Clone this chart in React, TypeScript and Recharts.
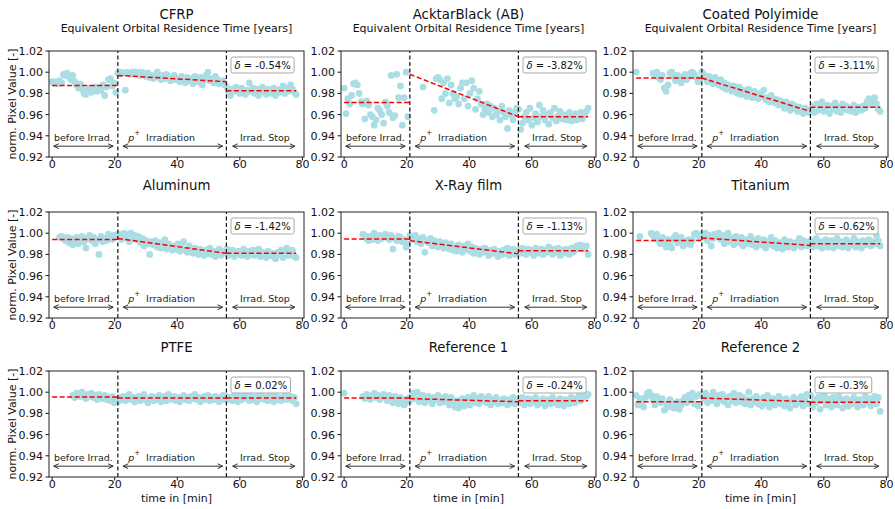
import React from 'react';
import { ScatterChart, Scatter, XAxis, YAxis, ReferenceLine, ReferenceDot } from 'recharts';

const FONT = '"DejaVu Sans", "Liberation Sans", sans-serif';
const N = null;

// time of each sample [min]
const TIMES = [
  0, 0.6, 1.2, 1.8, 2.4, 3, 3.6, 4.2, 4.8, 5.4,
  6, 6.6, 7.2, 7.8, 8.4, 9, 9.6, 10.2, 10.8, 11.4,
  12, 12.6, 13.2, 13.8, 14.4, 15, 15.6, 16.2, 16.8, 17.4,
  18, 18.6, 19.2, 19.8, 20.4, 21, 21.6, 22.2, 22.8, 23.4,
  24, 24.6, 25.2, 25.8, 26.4, 27, 27.6, 28.2, 28.8, 29.4,
  30, 30.6, 31.2, 31.8, 32.4, 33, 33.6, 34.2, 34.8, 35.4,
  36, 36.6, 37.2, 37.8, 38.4, 39, 39.6, 40.2, 40.8, 41.4,
  42, 42.6, 43.2, 43.8, 44.4, 45, 45.6, 46.2, 46.8, 47.4,
  48, 48.6, 49.2, 49.8, 50.4, 51, 51.6, 52.2, 52.8, 53.4,
  54, 54.6, 55.2, 55.8, 56.4, 57, 57.6, 58.2, 58.8, 59.4,
  60, 60.6, 61.2, 61.8, 62.4, 63, 63.6, 64.2, 64.8, 65.4,
  66, 66.6, 67.2, 67.8, 68.4, 69, 69.6, 70.2, 70.8, 71.4,
  72, 72.6, 73.2, 73.8, 74.4, 75, 75.6, 76.2, 76.8, 77.4,
  78,
];

// normalised pixel values, in thousandths (1000 = 1.000)
const CFRP = [
  991, 990, 991, 989, 992, 990, 998, 997, 999, 996, 993, 997, 991, 988, 985, 989, 984, 980,
  979, 983, 985, 981, 984, 986, 982, 985, 983, 988, 978, 986, 993, 994, 987, 990, 981,
  999, 998, 1000, 999, 983, 1000, 999, 998, 1000, 1000, 1000, 999, 997, 1000, 998, 996, 999, 995, 997, 994,
  996, 1000, 995, 993, 997, 994, 998, 996, 992, 995, 997, 993, 994, 991, 996, 993, 990, 995, 992, 994,
  989, 996, 993, 991, 995, 988, 993, 997, 1000, 992, 994, 990, 996, 993, 989, 991, 992, 988,
  986, 981, 978, 984, 982, 986, 983, 980, 985, 981, 979, 983, 990, 982, 985, 980, 984, 978, 983, 986,
  981, 979, 984, 982, 980, 985, 978, 983, 981, 984, 987, 980, 985, 982, 988, 984, 981, 979,
];
const ACKTAR = [
  985, 961, 975, 970, 978, 989, 990, 988, 980, 972, 970, 956, 973, 969, 960, 958, 950, 955,
  966, 964, 960, 952, 972, 968, 962, 997, 957, 959, 998, 976, 987, 950, 976, 1000, 958,
  N, N, N, N, N, N, N, 986, N, N, N, N, N, 964, 994, 995, 993, 975, 990, 980,
  994, 971, 988, 980, 975, 977, 970, 985, 990, 975, 990, 968, 980, 992, 985, 965, 975, 982, 970, 960,
  965, 970, 962, 968, 958, 966, 960, 963, 955, 968, 962, 958, 947, 964, 960, 955, 962, 966,
  965, 946, 952, 958, 962, 955, 966, 950, 957, 961, 953, 969, 958, 964, 955, 960, 951, 962, 957, 966,
  954, 959, 963, 956, 960, 955, 958, 962, 954, 957, 961, 955, 959, 962, 956, 960, 963, 966,
];
const POLYIMIDE = [
  1000, N, N, N, N, N, N, N, N,
  999, 998, 1000, 995, 993, 997, 985, 982, 988, 999, 1000, 996, 992, 997, 994, 990, 996, 998,
  993, 997, 999, 1000, 998, 995, 991, 993,
  1000, 998, 995, 991, 996, 993, 989, 995, 992, 988, 993, 986, 990, 984, 988, 985, 982, 987, 983, 980,
  986, 979, 983, 981, 977, 984, 980, 976, 982, 978, 975, 980, 977, 983, 974, 976, 972, 978, 975, 971,
  974, 969, 973, 970, 966, 972, 968, 964, 970, 966, 968, 963, 967, 965, 961, 966, 964, 962,
  965, 968, 962, 970, 964, 967, 972, 963, 966, 969, 961, 968, 965, 971, 963, 967, 962, 970, 965, 968,
  964, 966, 963, 969, 962, 965, 967, 964, 968, 966, 972, 975, 969, 974, 976, 970, 965, 963,
];
const ALUMINUM = [
  N, N, N, N,
  996, 997, 995, 993, 996, 991, 995, 989, 994, 996, 990, 993, 997, 992, 986, 995, 998, 993,
  996, 990, 994, 980, 997, 992, 995, 993, 999, 996, 994, 998, 997,
  999, 997, 994, 1000, 996, 999, 992, 1000, 995, 998, 994, 997, 991, 995, 988, 993, 990, 980, 992, 989,
  993, 987, 991, 986, 989, 994, 985, 990, 987, 984, 988, 985, 990, 983, 987, 992, 984, 982, 988, 985,
  981, 986, 983, 980, 985, 982, 979, 984, 981, 986, 980, 983, 978, 982, 985, 979, 981, 983,
  985, 979, 982, 984, 978, 981, 983, 980, 979, 985, 982, 978, 983, 980, 984, 979, 981, 985, 978, 982,
  980, 977, 983, 979, 981, 978, 976, 982, 980, 984, 977, 983, 986, 979, 981, 984, 978, 977,
];
const XRAY = [
  N, N, N, N, N, N, N, N, N, N,
  999, 998, 995, 993, 997, 994, 1000, 996, 993, 998, 995, 997, 999, 996, 994, 998, 985, 995,
  993, 997, 996, 992, 994, 987, 990,
  998, 997, 994, 998, 992, 995, 990, 996, 982, 993, 991, 995, 988, 993, 990, 987, 992, 989, 986, 991,
  988, 985, 990, 984, 987, 983, 989, 986, 982, 988, 985, 990, 983, 987, 981, 986, 984, 980, 985, 982,
  986, 983, 979, 984, 981, 985, 982, 978, 983, 980, 984, 981, 986, 979, 983, 985, 980, 982,
  984, 981, 986, 983, 980, 985, 982, 984, 979, 986, 983, 981, 985, 980, 984, 982, 987, 983, 980, 985,
  982, 986, 979, 984, 981, 985, 983, 980, 986, 982, 984, 988, 986, 989, 987, 985, 988, 980,
];
const TITANIUM = [
  N, N, 997, N, N, N, N, N,
  1000, 998, 995, 999, 993, 990, 996, 992, 987, 994, 990, 986, 995, 998, 991, 993, 996, 988,
  992, 990, 994, 989, 993, 999, 1000, 998, 996,
  999, 996, 1000, 993, 998, 988, 995, 999, 997, 1000, 994, 998, 990, 996, 1000, 992, 995, 989, 997, 993,
  991, 996, 988, 994, 992, 990, 997, 989, 993, 987, 995, 991, 989, 994, 986, 992, 990, 996, 988, 993,
  986, 991, 989, 985, 994, 990, 987, 992, 988, 986, 991, 989, 995, 987, 993, 990, 988, 992,
  993, 987, 991, 995, 988, 992, 986, 990, 994, 987, 989, 993, 986, 991, 995, 988, 992, 987, 990, 994,
  986, 991, 989, 995, 987, 992, 990, 986, 993, 989, 991, 994, 988, 992, 990, 998, 993, 988,
];
const PTFE = [
  N, N, N, N, N, N, N, N, N, N, N,
  997, 995, 999, 998, 996, 1000, 997, 994, 998, 996, 999, 995, 997, 993, 998, 996, 994, 997,
  993, 995, 992, 996, 990, 993,
  991, 995, 993, 996, 992, 994, 998, 993, 995, 991, 994, 996, 992, 995, 998, 993, 990, 994, 996, 992,
  995, 993, 997, 991, 994, 996, 992, 998, 994, 993, 996, 992, 995, 991, 994, 997, 993, 995, 992, 996,
  994, 998, 993, 995, 991, 994, 996, 993, 997, 992, 995, 993, 996, 994, 991, 995, 997, 993,
  996, 993, 995, 992, 997, 994, 991, 996, 993, 995, 998, 994, 992, 996, 993, 995, 991, 997, 994, 996,
  993, 995, 992, 997, 994, 991, 996, 993, 995, 992, 994, 997, 993, 995, 996, 992, 995, 989,
];
const REFERENCE1 = [
  999, N, N, N, N, N, N, N, N, N,
  996, 994, 998, 995, 993, 997, 999, 995, 997, 993, 996, 998, 995, 992, 997, 994, 990, 996,
  993, 989, 995, 992, 988, 991, 994,
  992, 996, 999, 994, 1000, 991, 995, 997, 990, 994, 996, 992, 989, 995, 993, 997, 990, 994, 991, 996,
  993, 988, 995, 990, 986, 992, 985, 989, 994, 987, 991, 995, 988, 993, 997, 990, 994, 989, 996, 992,
  994, 990, 996, 988, 993, 991, 995, 989, 992, 990, 994, 991, 988, 993, 990, 995, 989, 992,
  993, 990, 995, 988, 992, 994, 989, 993, 991, 995, 988, 992, 990, 994, 987, 991, 993, 989, 995, 990,
  992, 988, 994, 990, 987, 993, 991, 989, 995, 992, 990, 994, 996, 992, 995, 997, 996, 998,
];
const REFERENCE2 = [
  997, 988, 994, 991, 986, 995, 999, 1000, 997, 993, 988, 996, 992, 990, 994, 983, 989, 986,
  993, 990, 985, 987, 991, 984, 988, 992, 995, 990, 997, 993, 999, 989, 996, 987, 998,
  997, 994, 999, 990, 996, 992, 1000, 995, 989, 997, 993, 998, 991, 995, 988, 996, 992, 999, 990, 994,
  997, 991, 995, 989, 993, 1000, 988, 994, 991, 996, 989, 993, 987, 995, 990, 997, 986, 992, 994, 988,
  991, 996, 989, 993, 987, 994, 990, 985, 992, 995, 988, 993, 990, 996, 987, 992, 998, 989,
  997, 986, 993, 990, 995, 984, 992, 998, 988, 994, 990, 986, 995, 991, 988, 996, 993, 985, 990, 994,
  987, 992, 989, 995, 991, 986, 993, 990, 988, 996, 991, 994, 987, 993, 996, 989, 995, 982,
];

// fitted levels (thousandths): [before, irradiation start, irradiation end, after]
const CFRP_FIT = [987.5, 997, 991, 982.5];
const ACKTAR_FIT = [971.5, 998, 958, 958];
const POLYIMIDE_FIT = [994.5, 994.5, 963, 967];
const ALUMINUM_FIT = [994, 995, 981, 981];
const XRAY_FIT = [994.5, 993, 980.5, 983.5];
const TITANIUM_FIT = [993, 995.5, 988.5, 990];
const PTFE_FIT = [995.5, 994.5, 994.5, 994.5];
const REFERENCE1_FIT = [994.5, 994, 991, 992];
const REFERENCE2_FIT = [991, 994.5, 991, 990.5];

const TITLES = ['CFRP', 'AcktarBlack (AB)', 'Coated Polyimide', 'Aluminum', 'X-Ray film', 'Titanium', 'PTFE', 'Reference 1', 'Reference 2'];
const VALUES = [CFRP, ACKTAR, POLYIMIDE, ALUMINUM, XRAY, TITANIUM, PTFE, REFERENCE1, REFERENCE2];
const FITS = [CFRP_FIT, ACKTAR_FIT, POLYIMIDE_FIT, ALUMINUM_FIT, XRAY_FIT, TITANIUM_FIT, PTFE_FIT, REFERENCE1_FIT, REFERENCE2_FIT];
const DELTAS = ['-0.54%', '-3.82%', '-3.11%', '-1.42%', '-1.13%', '-0.62%', '0.02%', '-0.24%', '-0.3%'];

// phase boundaries [min]
const PHASE_X = [0, 21, 55.7, 78];
const ARROW_SPANS = [[0.5, 19.5], [22.7, 54.5], [57.7, 77.6]];
const PHASE_LABEL_X = [10, 35, 68];
const ARROW_Y = 0.9302;
const LABEL_Y = 0.9385;

const X_DOMAIN = [-1, 80.5];
const Y_DOMAIN = [0.92, 1.02];
const X_TICKS = [0, 20, 40, 60, 80];
const YEARS_PER_MIN = 2.81;
const YEAR_TICKS = [0, 50, 100, 150, 200];
const Y_TICKS = [0.92, 0.94, 0.96, 0.98, 1.0, 1.02];

// layout
const COL_LEFT = [49, 341, 633];
const ROW_TOP = [51, 212, 371];
const PW = 255;
const PH = 106;
const LP = 45;
const TP = 25;
const BP = 25;
const RP = 5;
const TITLE_Y = [14, 185, 347];
const DOT = '#abdde4';
const INK = '#111';

const tickStyle = { fontSize: 11, fill: INK, fontFamily: FONT };

const CHAR_W: Record<string, number> = {
  '0': 0.636, '1': 0.636, '2': 0.636, '3': 0.636, '4': 0.636, '5': 0.636, '6': 0.636, '7': 0.636,
  '8': 0.636, '9': 0.636, '.': 0.318, '-': 0.361, '%': 0.95, ' ': 0.318, '=': 0.838,
};
const textWidth = (s: string, size: number) => s.split('').reduce((a, c) => a + (CHAR_W[c] ?? 0.6), 0) * size;

const Dot = (p: any) => <circle cx={p.cx} cy={p.cy} r={3.4} fill={DOT} />;
const NoDot = () => <g />;

const Arrow = (p: any) => {
  const { x1, x2, y1 } = p;
  const a = Math.min(x1, x2);
  const b = Math.max(x1, x2);
  const hl = 5;
  const hw = 2.4;
  return (
    <g stroke="#333" strokeWidth={1} fill="none">
      <line x1={a} y1={y1} x2={b} y2={y1} />
      <path d={`M${a + hl},${y1 - hw} L${a},${y1} L${a + hl},${y1 + hw}`} />
      <path d={`M${b - hl},${y1 - hw} L${b},${y1} L${b - hl},${y1 + hw}`} />
    </g>
  );
};

const makeLabel = (k: number) => (p: any) => {
  const common = { x: p.cx, y: p.cy, textAnchor: 'middle' as const, dominantBaseline: 'central' as const, fontSize: 9.5, fontFamily: FONT, fill: '#222' };
  if (k === 1) {
    return (
      <text {...common} style={{ whiteSpace: 'pre' }}>
        <tspan fontStyle="italic">p</tspan>
        <tspan dy={-4} fontSize={7}>+</tspan>
        <tspan dy={4}>{'  Irradiation'}</tspan>
      </text>
    );
  }
  return <text {...common}>{k === 0 ? 'before Irrad.' : 'Irrad. Stop'}</text>;
};

const RED_LINE = { stroke: '#ff0000', strokeDasharray: '5 2.5', strokeWidth: 1.5, fill: 'none' };
const BLACK_LINE = { stroke: INK, strokeDasharray: '4 2.5', strokeWidth: 1.2, fill: 'none' };

function Panel({ idx }: { idx: number }) {
  const col = idx % 3;
  const row = Math.floor(idx / 3);
  const values = VALUES[idx];
  const fit = FITS[idx].map((v) => v / 1000);
  const data = TIMES.map((t, i) => (values[i] == null ? null : { x: t, y: (values[i] as number) / 1000 })).filter(Boolean) as { x: number; y: number }[];
  const fitSegments = [
    [{ x: PHASE_X[0], y: fit[0] }, { x: PHASE_X[1], y: fit[0] }],
    [{ x: PHASE_X[1], y: fit[1] }, { x: PHASE_X[2], y: fit[2] }],
    [{ x: PHASE_X[2], y: fit[3] }, { x: PHASE_X[3], y: fit[3] }],
  ];
  const phaseLines = [PHASE_X[1], PHASE_X[2]].map((x) => [{ x, y: Y_DOMAIN[0] }, { x, y: Y_DOMAIN[1] }]);
  return (
    <div style={{ position: 'absolute', left: COL_LEFT[col] - LP, top: ROW_TOP[row] - TP }}>
      <ScatterChart width={LP + PW + RP} height={TP + PH + BP} margin={{ top: 0, right: RP, bottom: 0, left: 0 }}>
        <XAxis
          xAxisId="b"
          type="number"
          dataKey="x"
          domain={X_DOMAIN}
          ticks={X_TICKS}
          allowDataOverflow
          height={BP}
          axisLine={false}
          tickSize={3.5}
          tickMargin={0}
          tick={tickStyle}
          tickLine={{ stroke: INK }}
          interval={0}
        />
        <XAxis
          xAxisId="t"
          orientation="top"
          type="number"
          domain={[X_DOMAIN[0] * YEARS_PER_MIN, X_DOMAIN[1] * YEARS_PER_MIN]}
          ticks={YEAR_TICKS}
          allowDataOverflow
          height={TP}
          axisLine={false}
          tickSize={3.5}
          tickMargin={4.5}
          tick={tickStyle}
          tickLine={{ stroke: INK }}
          interval={0}
        />
        <YAxis
          yAxisId="l"
          type="number"
          dataKey="y"
          domain={Y_DOMAIN}
          ticks={Y_TICKS}
          allowDataOverflow
          width={LP}
          axisLine={false}
          tickSize={3.5}
          tickMargin={2.5}
          tick={tickStyle}
          tickLine={{ stroke: INK }}
          tickFormatter={(v: number) => v.toFixed(2)}
          interval={0}
        />
        <Scatter xAxisId="b" yAxisId="l" data={data} shape={Dot} isAnimationActive={false} />
        {phaseLines.map((seg, k) => (
          <Scatter key={'v' + k} xAxisId="b" yAxisId="l" data={seg} line={BLACK_LINE} shape={NoDot} isAnimationActive={false} />
        ))}
        {fitSegments.map((seg, k) => (
          <Scatter key={'f' + k} xAxisId="b" yAxisId="l" data={seg} line={RED_LINE} shape={NoDot} isAnimationActive={false} />
        ))}
        {ARROW_SPANS.map((s, k) => (
          <ReferenceLine key={'a' + k} xAxisId="b" yAxisId="l" segment={[{ x: s[0], y: ARROW_Y }, { x: s[1], y: ARROW_Y }]} shape={Arrow} />
        ))}
        {PHASE_LABEL_X.map((x, k) => (
          <ReferenceDot key={'l' + k} xAxisId="b" yAxisId="l" x={x} y={LABEL_Y} r={0} shape={makeLabel(k)} />
        ))}
      </ScatterChart>
    </div>
  );
}

function Overlay() {
  return (
    <svg width={895} height={509} style={{ position: 'absolute', left: 0, top: 0, pointerEvents: 'none' }}>
      {TITLES.map((t, idx) => {
        const col = idx % 3;
        const row = Math.floor(idx / 3);
        const L = COL_LEFT[col];
        const T = ROW_TOP[row];
        const cx = L + PW / 2;
        const dStr = DELTAS[idx];
        const tw = textWidth('δ = ' + dStr, 10);
        const bx = L + 182;
        const by = T + 6;
        return (
          <g key={idx} fontFamily={FONT}>
            <rect x={L} y={T} width={PW} height={PH} fill="none" stroke="#222" strokeWidth={1} />
            <text x={cx} y={TITLE_Y[row]} textAnchor="middle" dominantBaseline="central" fontSize={13.3} fill={INK}>
              {t}
            </text>
            {row === 0 && (
              <text x={cx} y={28} textAnchor="middle" dominantBaseline="central" fontSize={11} fill={INK}>
                Equivalent Orbital Residence Time [years]
              </text>
            )}
            {col === 0 && (
              <text
                x={12}
                y={T + PH / 2}
                transform={`rotate(-90 12 ${T + PH / 2})`}
                textAnchor="middle"
                dominantBaseline="central"
                fontSize={11}
                fill={INK}
              >
                norm. Pixel Value [-]
              </text>
            )}
            {row === 2 && (
              <text x={cx} y={498} textAnchor="middle" dominantBaseline="central" fontSize={11} fill={INK}>
                time in [min]
              </text>
            )}
            <rect x={bx} y={by} width={tw + 7} height={16} rx={2} fill="#fff" stroke="#aaa" strokeWidth={1} />
            <text x={bx + 3.5} y={by + 8} dominantBaseline="central" fontSize={10} fill={INK} style={{ whiteSpace: 'pre' }}>
              <tspan fontStyle="italic">δ</tspan>
              {' = ' + dStr}
            </text>
          </g>
        );
      })}
    </svg>
  );
}

export default function App() {
  return (
    <div style={{ position: 'absolute', left: 0, top: 0, width: 895, height: 509, background: '#fff', overflow: 'hidden' }}>
      {TITLES.map((_, idx) => (
        <Panel key={idx} idx={idx} />
      ))}
      <Overlay />
    </div>
  );
}
